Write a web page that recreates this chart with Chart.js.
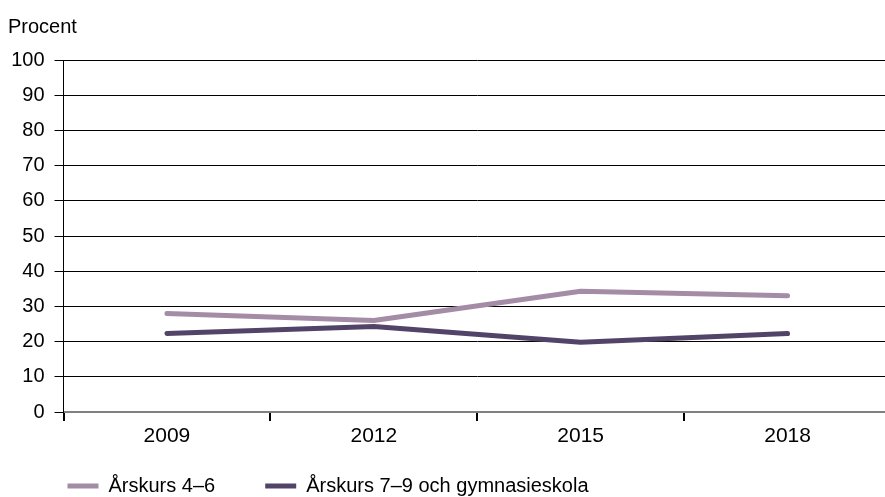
<!DOCTYPE html>
<html>
<head>
<meta charset="utf-8">
<script src="https://cdn.jsdelivr.net/npm/chart.js@4"></script>
<style>
html,body{margin:0;padding:0;background:#fff;overflow:hidden;width:885px;height:497px;}
#wrap{position:relative;width:900px;height:497px;}
#ylab{position:absolute;left:8px;top:15px;font-family:"Liberation Sans",Arial,sans-serif;font-size:20px;line-height:23px;color:#000;}
</style>
</head>
<body>
<div id="wrap"><canvas id="c" width="900" height="497"></canvas><div id="ylab">Procent</div></div>
<script>
const categories = ["2009", "2012", "2015", "2018"];
const seriesNames = ["Årskurs 4–6", "Årskurs 7–9 och gymnasieskola"];
const grade4to6 = [28.0, 26.0, 34.3, 33.0];
const grade7to9 = [22.3, 24.3, 19.8, 22.3];
const yTicks = [0, 10, 20, 30, 40, 50, 60, 70, 80, 90, 100];

const FONT = "'Liberation Sans', Arial, sans-serif";

const placeLegend = {
  id: 'placeLegend',
  afterLayout(chart) {
    const lg = chart.legend;
    if (!lg) return;
    lg.left = 17.5;
    lg.right = 900;
    lg.width = lg.right - lg.left;
    lg.top = 426;
    lg.bottom = 497;
    lg.height = lg.bottom - lg.top;
  }
};

new Chart(document.getElementById('c'), {
  type: 'line',
  data: {
    labels: categories,
    datasets: [
      { label: seriesNames[0], data: grade4to6, borderColor: '#a48ca6', backgroundColor: '#a48ca6',
        borderWidth: 5, pointRadius: 0, tension: 0, borderCapStyle: 'round', borderJoinStyle: 'round' },
      { label: seriesNames[1], data: grade7to9, borderColor: '#524468', backgroundColor: '#524468',
        borderWidth: 5, pointRadius: 0, tension: 0, borderCapStyle: 'round', borderJoinStyle: 'round' }
    ]
  },
  options: {
    responsive: false,
    animation: false,
    devicePixelRatio: 1,
    layout: { padding: { top: 60, left: 4, right: 9, bottom: 0 } },
    plugins: {
      legend: {
        position: 'bottom',
        align: 'start',
        maxHeight: 44.8,
        labels: {
          usePointStyle: true,
          pointStyle: 'line',
          pointStyleWidth: 31,
          padding: 50,
          color: '#000',
          font: { family: FONT, size: 20 }
        }
      },
      tooltip: { enabled: false }
    },
    scales: {
      x: {
        offset: true,
        grid: { offset: true, drawOnChartArea: false, drawTicks: true, tickLength: 9, color: '#000', lineWidth: 2 },
        border: { display: true, color: '#808080', width: 2 },
        ticks: { color: '#000', font: { family: FONT, size: 21 }, padding: 3, maxRotation: 0 }
      },
      y: {
        min: 0, max: 100,
        afterFit: (s) => { s.width = 59.5; },
        afterBuildTicks: (s) => { s.ticks = yTicks.map(v => ({ value: v })); },
        grid: { color: '#000', lineWidth: 1, tickLength: 9 },
        border: { display: true, color: '#000', width: 1 },
        ticks: { color: '#000', font: { family: FONT, size: 20 }, padding: 10 }
      }
    }
  },
  plugins: [placeLegend]
});
</script>
</body>
</html>
